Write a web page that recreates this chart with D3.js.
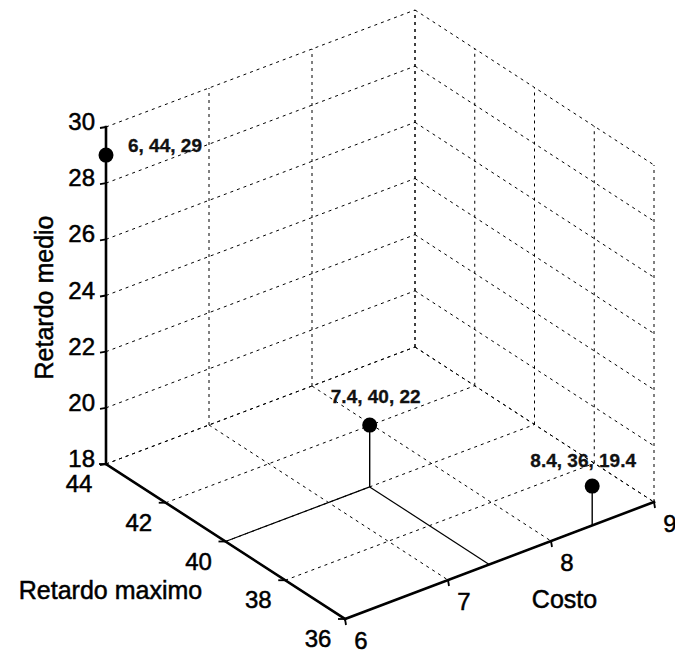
<!DOCTYPE html>
<html>
<head>
<meta charset="utf-8">
<script src="https://cdn.jsdelivr.net/npm/d3@7"></script>
<style>
  body { margin: 0; background: #fff; }
  svg { display: block; }
  .tick-label, .axis-title { font-family: "Liberation Sans", Arial, sans-serif; fill: #000; stroke: #000; stroke-width: 0.5px; }
  .tick-label { font-size: 24px; }
  .axis-title { font-size: 25px; }
  .point-label { font-family: "Liberation Sans", Arial, sans-serif; font-size: 19px; font-weight: bold; fill: #111; stroke: #111; stroke-width: 0.3px; }
</style>
</head>
<body>
<div id="chart"></div>
<script>
// data
const costo = [6, 7.4, 8.4];
const retardoMaximo = [44, 40, 36];
const retardoMedio = [29, 20.2, 19.4];
const pointLabels = ["6, 44, 29", "7.4, 40, 22", "8.4, 36, 19.4"];

const costoTicks = [6, 7, 8, 9];
const maximoTicks = [36, 38, 40, 42, 44];
const medioTicks = [18, 20, 22, 24, 26, 28, 30];

// label placement next to each marker [dx, dy, anchor]
const labelPlacement = [[22, -3, "start"], [6, -22, "middle"], [-9, -19, "middle"]];

const width = 675, height = 654;

const svg = d3.select("#chart").append("svg")
    .attr("width", width)
    .attr("height", height);

// 3D -> 2D: each axis scale gives a fraction, combined with the screen vector of that axis
const sc = d3.scaleLinear().domain([6, 9]).range([0, 1]);
const sr = d3.scaleLinear().domain([44, 36]).range([0, 1]);
const sz = d3.scaleLinear().domain([18, 30]).range([0, 1]);

const origin = [106, 464];
const vecC = [309, -117];
const vecR = [239, 155];
const vecZ = [0, -337];

function project(c, r, z) {
    const fc = sc(c), fr = sr(r), fz = sz(z);
    return [
        origin[0] + fc * vecC[0] + fr * vecR[0] + fz * vecZ[0],
        origin[1] + fc * vecC[1] + fr * vecR[1] + fz * vecZ[1]
    ];
}

const cMin = 6, cMax = 9, rMin = 36, rMax = 44, zMin = 18, zMax = 30;

function seg(g, a, b) {
    return g.append("line")
        .attr("x1", a[0]).attr("y1", a[1])
        .attr("x2", b[0]).attr("y2", b[1]);
}

// grid
const grid = svg.append("g")
    .attr("stroke", "#000")
    .attr("stroke-width", 1)
    .attr("stroke-dasharray", "3,4")
    .attr("fill", "none");

// back wall (retardo maximo = 44)
medioTicks.forEach(z => seg(grid, project(cMin, rMax, z), project(cMax, rMax, z)));
costoTicks.forEach(c => seg(grid, project(c, rMax, zMin), project(c, rMax, zMax)));
// side wall (costo = 9)
medioTicks.forEach(z => seg(grid, project(cMax, rMax, z), project(cMax, rMin, z)));
maximoTicks.forEach(r => seg(grid, project(cMax, r, zMin), project(cMax, r, zMax)));
// floor
costoTicks.forEach(c => seg(grid, project(c, rMax, zMin), project(c, rMin, zMin)));
maximoTicks.forEach(r => seg(grid, project(cMin, r, zMin), project(cMax, r, zMin)));

// projection lines on the floor
const guides = svg.append("g").attr("stroke", "#000").attr("stroke-width", 1.2);
costo.forEach((c, i) => {
    const r = retardoMaximo[i];
    seg(guides, project(cMin, r, zMin), project(c, r, zMin));
    seg(guides, project(c, r, zMin), project(c, rMin, zMin));
});

// axes
const axes = svg.append("g").attr("stroke", "#000").attr("stroke-width", 2.6).attr("stroke-linecap", "square");
seg(axes, project(cMin, rMax, zMin), project(cMin, rMax, zMax));
seg(axes, project(cMin, rMax, zMin), project(cMin, rMin, zMin));
seg(axes, project(cMin, rMin, zMin), project(cMax, rMin, zMin));

// tick marks
const ticks = svg.append("g").attr("stroke", "#000").attr("stroke-width", 1.8);
medioTicks.forEach(z => {
    const p = project(cMin, rMax, z);
    seg(ticks, [p[0] - 6, p[1] + 1], p);
});
maximoTicks.forEach(r => {
    const p = project(cMin, r, zMin);
    seg(ticks, [p[0] - 7, p[1]], p);
});
costoTicks.forEach(c => {
    const p = project(c, rMin, zMin);
    seg(ticks, p, [p[0] + 1, p[1] + 6]);
});

// tick labels
const labels = svg.append("g");
medioTicks.forEach(z => {
    const p = project(cMin, rMax, z);
    labels.append("text").attr("class", "tick-label")
        .attr("x", p[0] - 11).attr("y", p[1] + 3)
        .attr("text-anchor", "end").text(z);
});
maximoTicks.forEach(r => {
    const p = project(cMin, r, zMin);
    labels.append("text").attr("class", "tick-label")
        .attr("x", p[0] - 27).attr("y", p[1] + 28)
        .attr("text-anchor", "middle").text(r);
});
costoTicks.forEach(c => {
    const p = project(c, rMin, zMin);
    labels.append("text").attr("class", "tick-label")
        .attr("x", p[0] + 16).attr("y", p[1] + 30)
        .attr("text-anchor", "middle").text(c);
});

// axis titles
const zMid = project(cMin, rMax, (zMin + zMax) / 2);
svg.append("text").attr("class", "axis-title")
    .attr("transform", `translate(${zMid[0] - 53},${zMid[1] + 2}) rotate(-90)`)
    .attr("text-anchor", "middle")
    .text("Retardo medio");

const rMid = project(cMin, (rMin + rMax) / 2, zMin);
svg.append("text").attr("class", "axis-title")
    .attr("x", rMid[0] - 115).attr("y", rMid[1] + 57)
    .attr("text-anchor", "middle")
    .text("Retardo maximo");

const cMid = project((cMin + cMax) / 2, rMin, zMin);
svg.append("text").attr("class", "axis-title")
    .attr("x", cMid[0] + 65).attr("y", cMid[1] + 47)
    .attr("text-anchor", "middle")
    .text("Costo");

// stems and markers
const pts = costo.map((c, i) => ({
    base: project(c, retardoMaximo[i], zMin),
    top: project(c, retardoMaximo[i], retardoMedio[i]),
    label: pointLabels[i],
    place: labelPlacement[i]
}));

svg.append("g").selectAll("line")
    .data(pts)
    .join("line")
    .attr("x1", d => d.base[0]).attr("y1", d => d.base[1])
    .attr("x2", d => d.top[0]).attr("y2", d => d.top[1])
    .attr("stroke", "#000")
    .attr("stroke-width", 1.4);

svg.append("g").selectAll("circle")
    .data(pts)
    .join("circle")
    .attr("cx", d => d.top[0]).attr("cy", d => d.top[1])
    .attr("r", 7.5)
    .attr("fill", "#000");

svg.append("g").selectAll("text")
    .data(pts)
    .join("text")
    .attr("class", "point-label")
    .attr("x", d => d.top[0] + d.place[0])
    .attr("y", d => d.top[1] + d.place[1])
    .attr("text-anchor", d => d.place[2])
    .text(d => d.label);
</script>
</body>
</html>
